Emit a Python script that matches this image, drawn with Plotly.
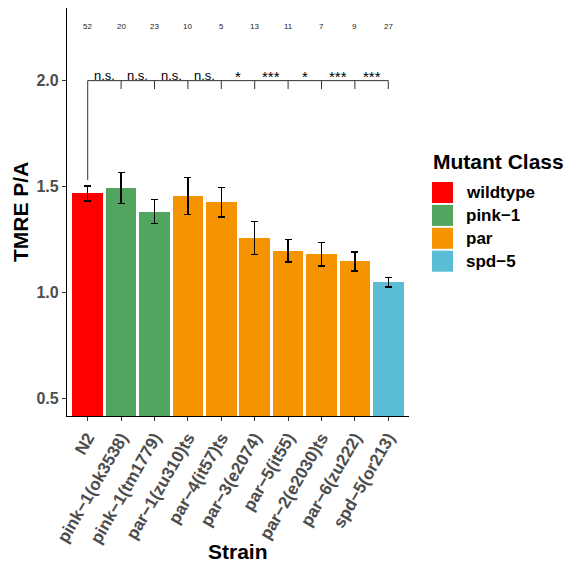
import plotly.graph_objects as go

# ---- data -------------------------------------------------------------
strains = ["N2", "pink−1(ok3538)", "pink−1(tm1779)", "par−1(zu310)ts",
           "par−4(it57)ts", "par−3(e2074)", "par−5(it55)", "par−2(e2030)ts",
           "par−6(zu222)", "spd−5(or213)"]
mutant_class = ["wildtype", "pink−1", "pink−1", "par", "par", "par",
                "par", "par", "par", "spd−5"]
tmre_mean = [1.467, 1.493, 1.381, 1.455, 1.426, 1.257, 1.196, 1.180, 1.146, 1.048]
tmre_se = [0.035, 0.072, 0.057, 0.087, 0.070, 0.077, 0.053, 0.055, 0.045, 0.023]
n_worms = [52, 20, 23, 10, 5, 13, 11, 7, 9, 27]
signif = ["n.s.", "n.s.", "n.s.", "n.s.", "*", "***", "*", "***", "***"]

class_order = ["wildtype", "pink−1", "par", "spd−5"]
class_colors = {"wildtype": "#FF0000", "pink−1": "#52A55E",
                "par": "#F59300", "spd−5": "#5BBCD6"}

# annotation levels (data units)
bracket_y = 2.0
bracket_tick = 1.96
ref_drop = 1.53
count_y = 2.255

# ---- layout geometry (pixels) ----------------------------------------
W, H = 568, 567
ML, MR, MT, MB = 67, 159, 8, 151
PW, PH = W - ML - MR, H - MT - MB
FONT = "Liberation Sans, Arial"


def px_x(p):
    return (p - ML) / PW


def px_y(p):
    return (H - MB - p) / PH


xs = list(range(len(strains)))
fig = go.Figure()

fig.add_trace(go.Bar(
    x=xs, y=tmre_mean, width=0.92,
    marker=dict(color=[class_colors[c] for c in mutant_class], line=dict(width=0)),
    error_y=dict(type="data", array=tmre_se, color="black", thickness=1.3, width=3.5),
    showlegend=False, hoverinfo="skip",
))

# comparison bracket: top line, drop ticks, long drop at reference strain
bx, by = [xs[0], xs[-1], None, xs[0], xs[0], None], [bracket_y, bracket_y, None, bracket_y, ref_drop, None]
for x in xs[1:]:
    bx += [x, x, None]
    by += [bracket_y, bracket_tick, None]
fig.add_trace(go.Scatter(x=bx, y=by, mode="lines", line=dict(color="#333333", width=1),
                         showlegend=False, hoverinfo="skip"))

annotations = []
for i, s in enumerate(signif):
    stars = s != "n.s."
    annotations.append(dict(x=i + 0.5, y=bracket_y, xref="x", yref="y", text=s,
                            showarrow=False, yanchor="bottom",
                            yshift=-6 if stars else -4,
                            font=dict(family=FONT, size=15 if stars else 13, color="black")))
for x, n in zip(xs, n_worms):
    annotations.append(dict(x=x, y=count_y, xref="x", yref="y", text=str(n),
                            showarrow=False,
                            font=dict(family=FONT, size=8, color="#222222")))

# axis titles
annotations.append(dict(x=px_x(20), y=0.5, xref="paper", yref="paper", text="<b>TMRE P/A</b>",
                        textangle=-90, showarrow=False, xanchor="center", yanchor="middle",
                        font=dict(family=FONT, size=21, color="black")))
annotations.append(dict(x=0.5, y=px_y(551.5), xref="paper", yref="paper", text="<b>Strain</b>",
                        showarrow=False, xanchor="center", yanchor="middle",
                        font=dict(family=FONT, size=21, color="black")))

# legend drawn by hand so the keys are full-size squares
shapes = []
annotations.append(dict(x=px_x(431), y=px_y(161.5), xref="paper", yref="paper",
                        text="<b>Mutant Class</b>", showarrow=False,
                        xanchor="left", yanchor="middle",
                        font=dict(family=FONT, size=21, color="black")))
key, step, top = 21, 22.9, 182
for k, c in enumerate(class_order):
    y0 = top + k * step
    shapes.append(dict(type="rect", xref="paper", yref="paper",
                       x0=px_x(432), x1=px_x(432 + key), y0=px_y(y0 + key), y1=px_y(y0),
                       fillcolor=class_colors[c], line=dict(width=0)))
    annotations.append(dict(x=px_x(464), y=px_y(y0 + key / 2), xref="paper", yref="paper",
                            text=f"<b>{c}</b>", showarrow=False,
                            xanchor="left", yanchor="middle",
                            font=dict(family=FONT, size=17, color="black")))

fig.update_layout(
    width=W, height=H,
    margin=dict(l=ML, r=MR, t=MT, b=MB),
    paper_bgcolor="white", plot_bgcolor="white",
    annotations=annotations, shapes=shapes,
    showlegend=False, bargap=0,
)
fig.update_xaxes(
    range=[-0.62, 9.62], tickvals=xs, ticktext=[f"<b>{s}</b>" for s in strains],
    tickangle=-60, ticks="outside", ticklen=4, tickcolor="#333333", tickwidth=1,
    tickfont=dict(family=FONT, size=17, color="#4D4D4D"),
    showline=True, linecolor="black", linewidth=1.3, showgrid=False, zeroline=False,
)
fig.update_yaxes(
    range=[0.416, 2.343], tickvals=[0.5, 1.0, 1.5, 2.0],
    ticktext=["<b>0.5</b>", "<b>1.0</b>", "<b>1.5</b>", "<b>2.0</b>"],
    ticks="outside", ticklen=4, tickcolor="#333333", tickwidth=1,
    tickfont=dict(family=FONT, size=16, color="#4D4D4D"),
    showline=True, linecolor="black", linewidth=1.3, showgrid=False, zeroline=False,
)

fig.write_html("out.html")
